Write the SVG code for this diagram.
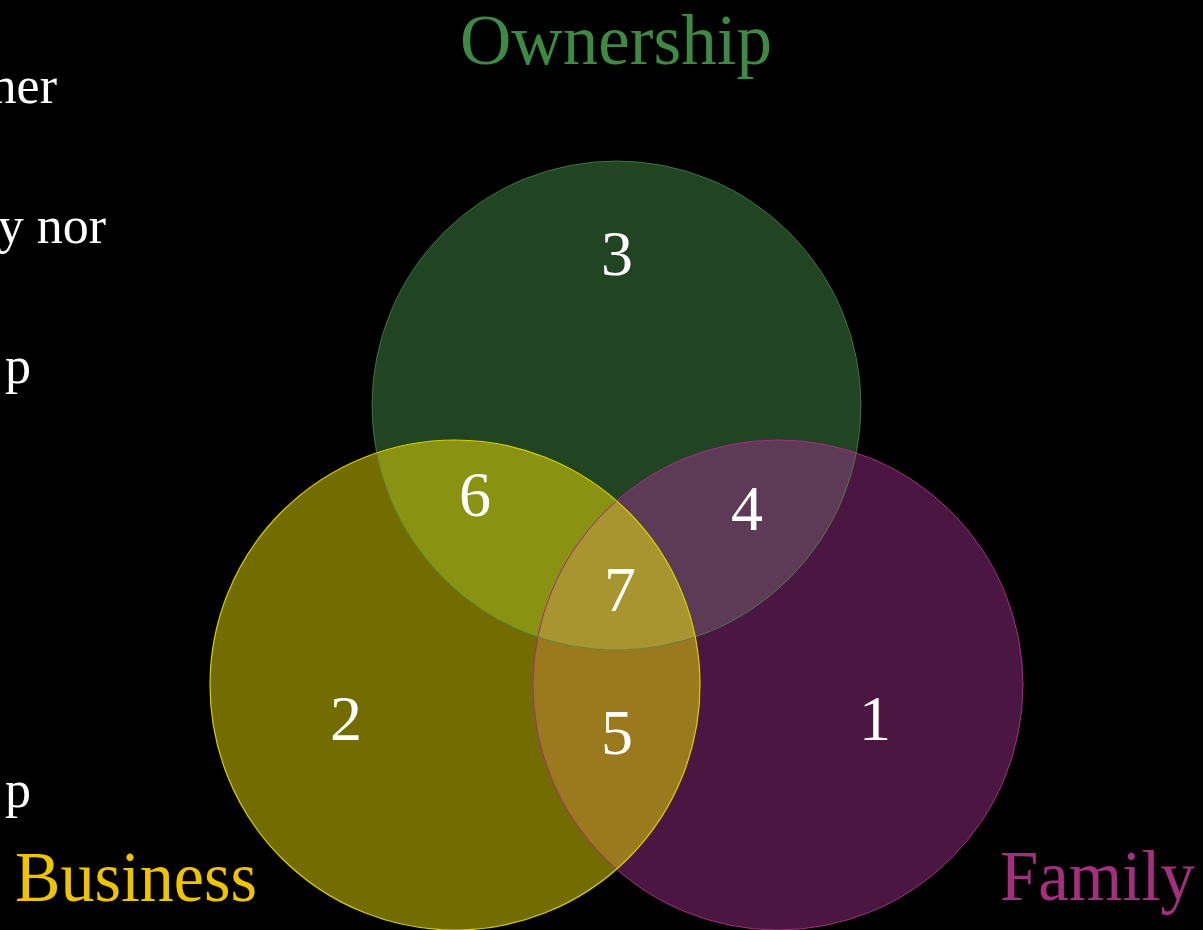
<svg xmlns="http://www.w3.org/2000/svg" width="1203" height="930" viewBox="0 0 1203 930">
  <style>
    .num { font-family: "Liberation Serif", serif; font-size: 64px; fill: #ffffff; text-anchor: middle; }
    .side { font-family: "Liberation Serif", serif; font-size: 52px; fill: #ffffff; }
    .title { font-family: "Liberation Serif", serif; font-size: 72px; }
  </style>
  <defs>
    <clipPath id="clipB"><circle cx="455" cy="685" r="245"/></clipPath>
    <clipPath id="clipF"><circle cx="778" cy="685" r="245"/></clipPath>
  </defs>
  <rect x="0" y="0" width="1203" height="930" fill="#000000"/>

  <g id="side-text">
    <text class="side" x="57" y="103" text-anchor="end">her</text>
    <text class="side" x="106" y="243" text-anchor="end">y nor</text>
    <text class="side" x="31" y="383" text-anchor="end">p</text>
    <text class="side" x="31" y="807" text-anchor="end">p</text>
  </g>

  <g id="business">
    <circle cx="455" cy="685" r="245" fill="#736c00"/>
  </g>
  <g id="family">
    <circle cx="778" cy="685" r="245" fill="#4b1641"/>
  </g>
  <g id="ownership">
    <circle cx="616.5" cy="405.5" r="244.5" fill="#214423"/>
  </g>

  <g id="overlaps">
    <circle cx="778" cy="685" r="245" fill="#9b7a1e" clip-path="url(#clipB)"/>
    <circle cx="616.5" cy="405.5" r="244.5" fill="#899211" clip-path="url(#clipB)"/>
    <circle cx="616.5" cy="405.5" r="244.5" fill="#5d3a56" clip-path="url(#clipF)"/>
    <g clip-path="url(#clipF)">
      <circle cx="616.5" cy="405.5" r="244.5" fill="#a8952f" clip-path="url(#clipB)"/>
    </g>
  </g>

  <g id="outlines" fill="none">
    <circle cx="616.5" cy="405.5" r="244.5" stroke="#4f8f52" stroke-width="1" stroke-opacity="0.7"/>
    <circle cx="778" cy="685" r="245" stroke="#a3307f" stroke-width="1"/>
    <circle cx="455" cy="685" r="245" stroke="#d8d000" stroke-width="1.2"/>
  </g>

  <g id="region-numbers">
    <text class="num" x="617" y="275">3</text>
    <text class="num" x="475" y="516">6</text>
    <text class="num" x="747" y="530">4</text>
    <text class="num" x="620" y="611">7</text>
    <text class="num" x="346" y="740">2</text>
    <text class="num" x="617" y="754">5</text>
    <text class="num" x="875" y="740">1</text>
  </g>

  <g id="label-ownership">
    <text class="title" x="460" y="64" fill="#3e8a45" textLength="312" lengthAdjust="spacingAndGlyphs">Ownership</text>
  </g>
  <g id="label-business">
    <text class="title" x="15" y="901" fill="#eec300" textLength="242" lengthAdjust="spacingAndGlyphs">Business</text>
  </g>
  <g id="label-family">
    <text class="title" x="1000" y="900" fill="#a3307f" textLength="195" lengthAdjust="spacingAndGlyphs">Family</text>
  </g>
</svg>
